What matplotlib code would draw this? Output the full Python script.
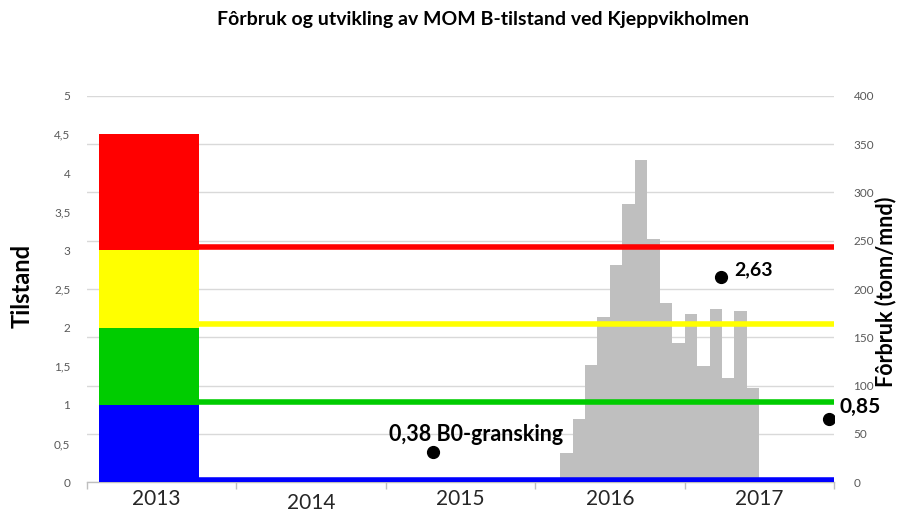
import matplotlib
matplotlib.use("Agg")
import matplotlib.pyplot as plt
from matplotlib.ticker import FuncFormatter, MultipleLocator, FixedLocator
from matplotlib.transforms import ScaledTranslation

plt.rcParams['font.family'] = ['Lato', 'DejaVu Sans']

# ---- data ----
years = ["2013", "2014", "2015", "2016", "2017"]
months_per_year = 12

# Tilstand class blocks (stacked) in first year
class_colors = ["#0000ff", "#00cc00", "#ffff00", "#ff0000"]
class_heights = [1.0, 1.0, 1.0, 1.5]
block_center_month = 5
block_width_months = 8

# Limit lines (Tilstand scale)
limit_levels = [3.04, 2.05, 1.045, 0.035]
limit_colors = ["#ff0000", "#ffff00", "#00cc00", "#0000ff"]
limit_start_month = 9
limit_end_month = 60

# Monthly feed use (tonn/mnd)
feed_start_month = 38
feed_values = [30, 65, 121, 171, 225, 288, 333, 252, 186, 144, 174, 120, 179, 108, 177, 98]

# MOM B survey points
survey_months = [27.8, 50.9, 59.6]
survey_values = [0.39, 2.65, 0.82]
survey_labels = ["0,38 B0-gransking", "2,63", "0,85"]

# ---- figure ----
fig = plt.figure(figsize=(8.97, 5.15), dpi=100)
ax_r = fig.add_axes([87/897, 1-482.3/515, (834-87)/897, (482.3-95.7)/515])
ax_l = ax_r.twinx()

# right axis (feed) at bottom layer
feed_x = [feed_start_month + i + 0.5 for i in range(len(feed_values))]
ax_r.bar(feed_x, feed_values, width=1.0, color="#bfbfbf", zorder=2)
ax_r.set_ylim(0, 400)
ax_r.yaxis.set_major_locator(MultipleLocator(50))
ax_r.grid(axis='y', color="#d9d9d9", lw=1, zorder=0)
ax_r.set_axisbelow(True)
ax_r.yaxis.tick_right()
ax_r.yaxis.set_label_position('right')
ax_r.tick_params(axis='y', length=0, pad=14, labelsize=8.5, labelcolor="#595959")
ax_r.set_ylabel("Fôrbruk (tonn/mnd)", fontsize=15.5, fontweight='bold', rotation=90, va='center', ha='center')
ax_r.yaxis.set_label_coords((885.5-87)/747, (482.3-292)/386.6)

# left axis (tilstand)
ax_l.yaxis.tick_left()
ax_l.yaxis.set_label_position('left')
ax_l.set_ylim(0, 5)
ax_l.yaxis.set_major_locator(MultipleLocator(0.5))
ax_l.yaxis.set_major_formatter(FuncFormatter(lambda v, p: f"{v:g}".replace('.', ',')))
ax_l.tick_params(axis='y', length=0, pad=12, labelsize=8.5, labelcolor="#595959")
ax_l.set_ylabel("Tilstand", fontsize=17, fontweight='bold', va='center', ha='center')
ax_l.yaxis.set_label_coords((22.5-87)/747, (482.3-285.7)/386.6)

bottom = 0
for h, c in zip(class_heights, class_colors):
    ax_l.bar(block_center_month, h, width=block_width_months, bottom=bottom, color=c, zorder=3)
    bottom += h

for lvl, c in zip(limit_levels, limit_colors):
    ax_l.plot([limit_start_month, limit_end_month], [lvl, lvl], color=c, lw=4, solid_capstyle='butt', zorder=4)

ax_l.plot(survey_months, survey_values, 'o', color='black', ms=8.5, zorder=5)
offsets = [(43, 18), (14, 8), (10, 12)]
sizes = [15.5, 14, 15]
has = ['center', 'left', 'left']
for m, v, lab, off, s, ha in zip(survey_months, survey_values, survey_labels, offsets, sizes, has):
    ax_l.annotate(lab, (m, v), xytext=off, textcoords='offset pixels', ha=ha, va='center',
                  fontsize=s, fontweight='bold', zorder=6)

# x axis
ax_r.set_xlim(0, len(years) * months_per_year)
ax_r.xaxis.set_major_locator(FixedLocator([i * months_per_year for i in range(len(years) + 1)]))
ax_r.xaxis.set_minor_locator(FixedLocator([i * months_per_year + months_per_year / 2 for i in range(len(years))]))
ax_r.xaxis.set_major_formatter(FuncFormatter(lambda v, p: ""))
ax_r.xaxis.set_minor_formatter(FuncFormatter(lambda v, p: years[int(v // months_per_year)]))
ax_r.tick_params(axis='x', which='major', length=5, color="#bfbfbf", width=1)
ax_r.tick_params(axis='x', which='minor', length=0, pad=5, labelsize=15, labelcolor="#262626")

for i, lab in enumerate(ax_r.xaxis.get_minorticklabels()):
    dx, dy = 0, 0
    if i == 0:
        dx = -5
    if i == 1:
        dy = -3.5
    lab.set_transform(lab.get_transform() + ScaledTranslation(dx/100, dy/100, fig.dpi_scale_trans))

for ax in (ax_r, ax_l):
    for s in ['left', 'right', 'top']:
        ax.spines[s].set_visible(False)
ax_l.spines['bottom'].set_visible(False)
ax_r.spines['bottom'].set_color("#bfbfbf")
ax_r.spines['bottom'].set_linewidth(1)

fig.text(482.7/897, 1-20/515, "Fôrbruk og utvikling av MOM B-tilstand ved Kjeppvikholmen",
         ha='center', va='center', fontsize=14, fontweight='bold')

fig.savefig("out.png", dpi=100)
